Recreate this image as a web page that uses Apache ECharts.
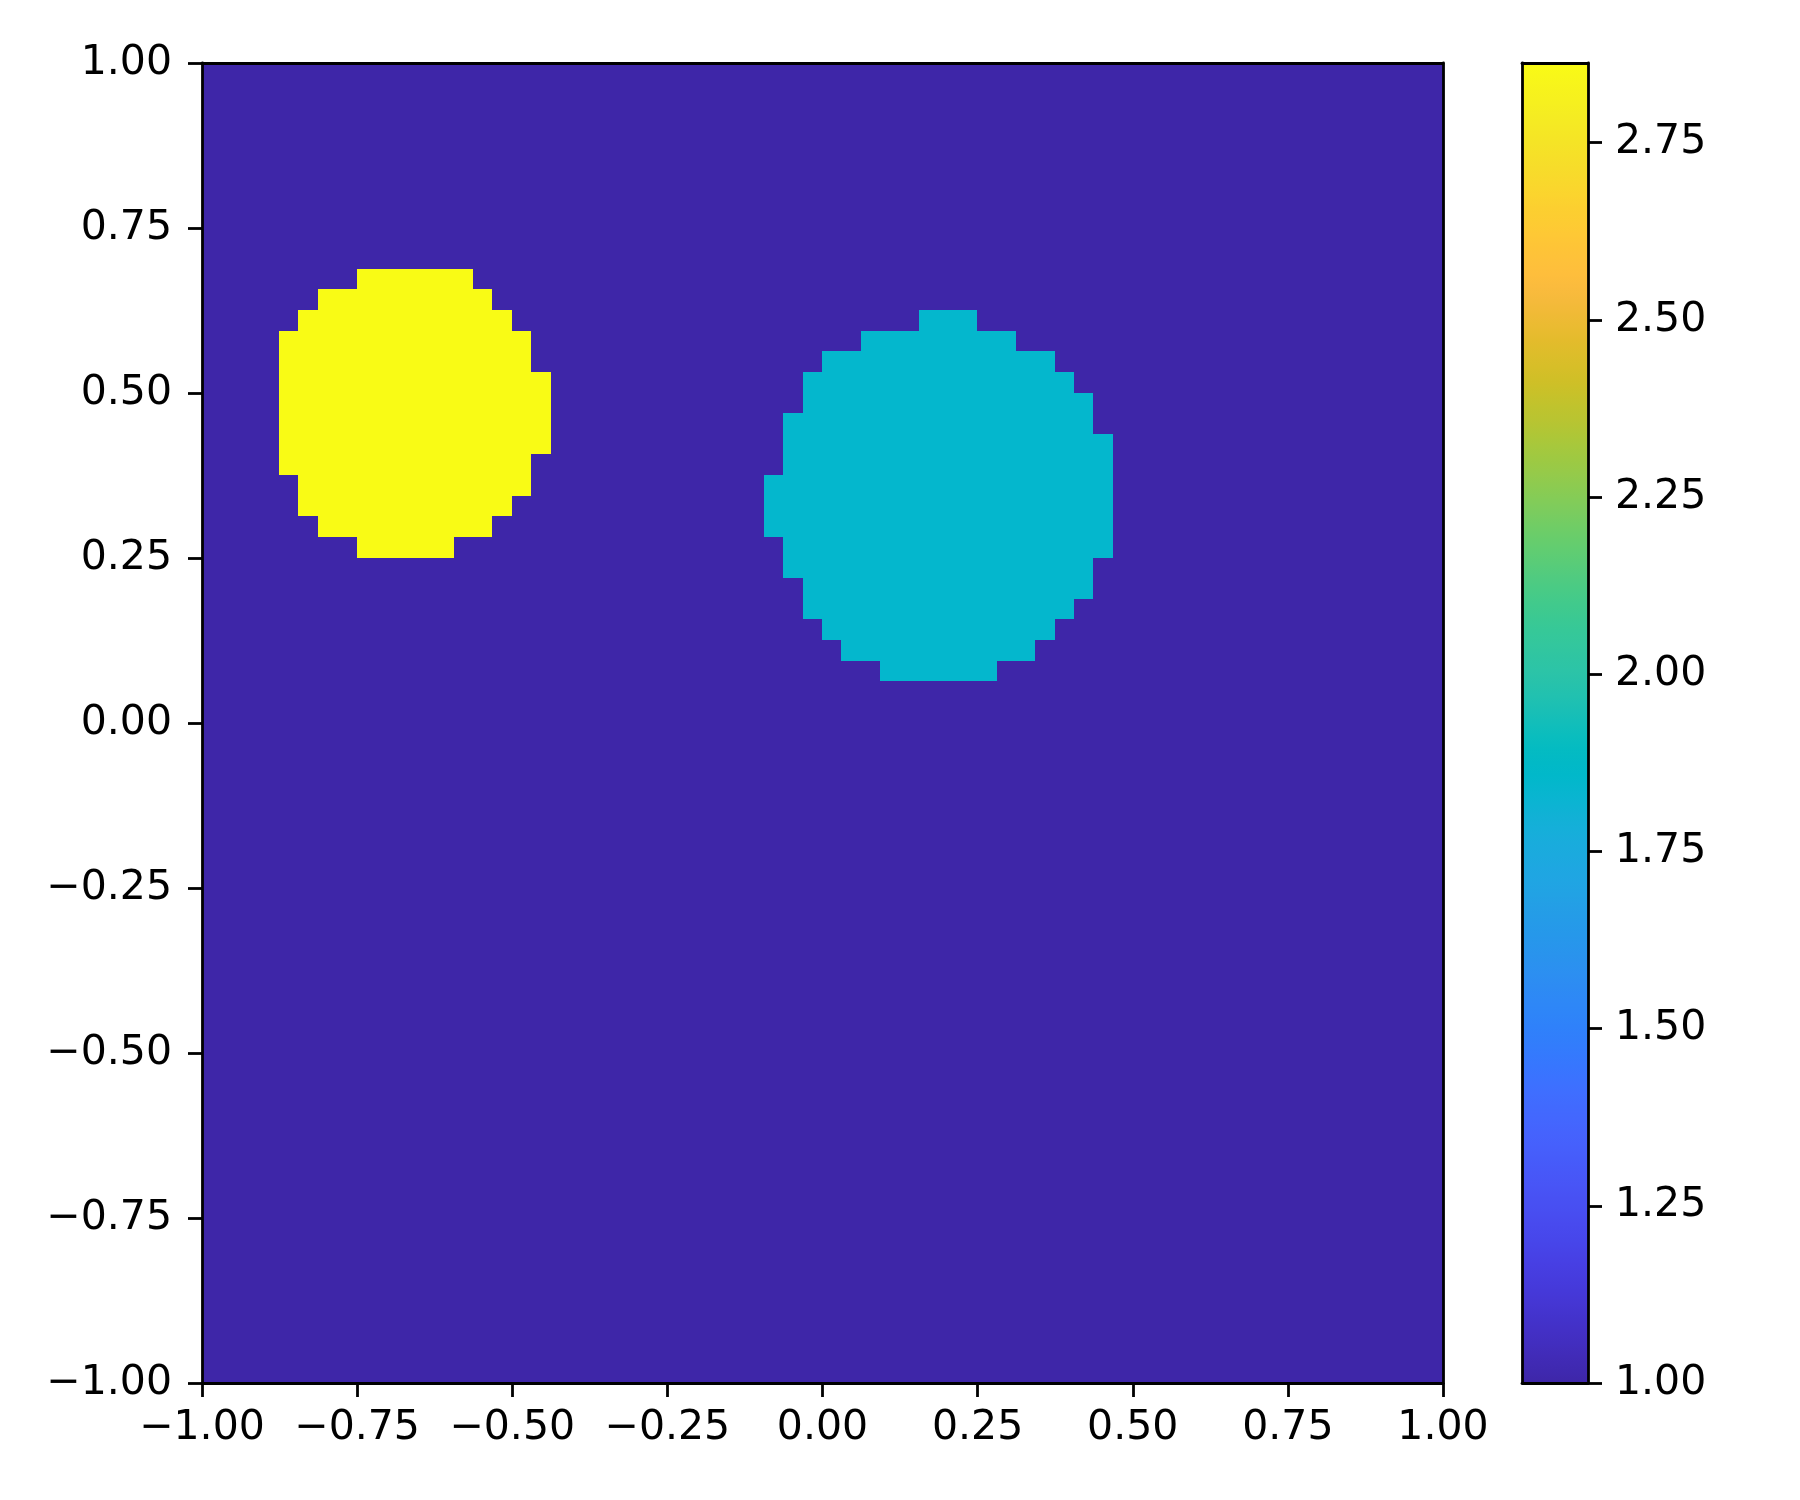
<!DOCTYPE html>
<html>
<head>
<meta charset="utf-8">
<script src="https://cdn.jsdelivr.net/npm/echarts@6/dist/echarts.min.js"></script>
<style>
  html, body { margin: 0; padding: 0; background: #fff; }
  #main { width: 1800px; height: 1500px; }
</style>
</head>
<body>
<div id="main"></div>
<script>
// grid of 64 x 64 cells over [-1, 1] x [-1, 1]
const nCells = 64;
const backgroundValue = 1.0;
const yellowValue = 2.8625;
const cyanValue = 1.845;
const colorMin = 1.0;
const colorMax = 2.8625;

// rows counted from the top: [row, first column, last column]
const yellowRows = [
  [10, 8, 13], [11, 6, 14], [12, 5, 15], [13, 4, 16], [14, 4, 16],
  [15, 4, 17], [16, 4, 17], [17, 4, 17], [18, 4, 17], [19, 4, 16],
  [20, 5, 16], [21, 5, 15], [22, 6, 14], [23, 8, 12]
];
const cyanRows = [
  [12, 37, 39], [13, 34, 41], [14, 32, 43], [15, 31, 44], [16, 31, 45],
  [17, 30, 45], [18, 30, 46], [19, 30, 46], [20, 29, 46], [21, 29, 46],
  [22, 29, 46], [23, 30, 46], [24, 30, 45], [25, 31, 45], [26, 31, 44],
  [27, 32, 43], [28, 33, 42], [29, 35, 40]
];

const axisTicks = [-1, -0.75, -0.5, -0.25, 0, 0.25, 0.5, 0.75, 1];
const colorbarTicks = [1, 1.25, 1.5, 1.75, 2, 2.25, 2.5, 2.75];

// parula, 64 steps
const parula = [
  '#3e26a8', '#402ab4', '#422ec0', '#4332cb', '#4537d5', '#463cde', '#4741e5', '#4747eb',
  '#484df0', '#4852f4', '#4758f8', '#465efb', '#4563fd', '#4269fe', '#3e6fff', '#3875fe',
  '#327cfc', '#2f81fa', '#2e87f7', '#2d8cf3', '#2b91ef', '#2796eb', '#259be8', '#23a0e5',
  '#20a5e3', '#1ca9df', '#18addb', '#12b1d6', '#08b5d0', '#01b8ca', '#02bac3', '#0bbdbd',
  '#19bfb6', '#24c1ae', '#2cc4a7', '#31c69f', '#37c897', '#3fca8e', '#4acb84', '#57cc7a',
  '#64cd6f', '#72cd64', '#81cc59', '#8fcb4e', '#9dc943', '#abc739', '#b9c431', '#c5c22a',
  '#d1bf27', '#dcbd29', '#e6bb2d', '#f0ba36', '#f8ba3d', '#febe3c', '#fec338', '#fec934',
  '#fccf30', '#fad62d', '#f7dc2a', '#f5e327', '#f5e924', '#f6ef20', '#f7f51b', '#f9fb15'
];

// build the cell table
let field = [];
for (let r = 0; r < nCells; r++) {
  field.push(new Array(nCells).fill(backgroundValue));
}
function paint(rows, value) {
  rows.forEach(function (d) {
    for (let c = d[1]; c <= d[2]; c++) field[d[0]][c] = value;
  });
}
paint(yellowRows, yellowValue);
paint(cyanRows, cyanValue);

let cells = [];
for (let r = 0; r < nCells; r++) {
  for (let c = 0; c < nCells; c++) {
    cells.push([c, nCells - 1 - r, field[r][c]]);
  }
}
let cats = [];
for (let i = 0; i < nCells; i++) cats.push(i);

const fontSize = 41;
const lineW = 2.8;
const tickLen = 14;
const fmt = function (v) {
  return (v < 0 ? '\u2212' : '') + Math.abs(v).toFixed(2);
};

const plot = { left: 202, top: 63, width: 1241, height: 1320 };
const bar = { left: 1522, top: 63, width: 66, height: 1320 };

function lineAxis(pos, gridIndex, min, max) {
  return {
    type: 'value', gridIndex: gridIndex, position: pos, min: min, max: max, z: 10,
    axisLine: { show: true, onZero: false, lineStyle: { color: '#000', width: lineW } },
    axisTick: { show: false }, axisLabel: { show: false }, splitLine: { show: false }
  };
}
function tickAxis(pos, gridIndex, min, max, ticks, margin) {
  return {
    type: 'value', gridIndex: gridIndex, position: pos, min: min, max: max, z: 10,
    axisLine: { show: true, onZero: false, lineStyle: { color: '#000', width: lineW } },
    axisTick: { show: true, length: tickLen, customValues: ticks, lineStyle: { color: '#000', width: lineW } },
    axisLabel: {
      show: true, customValues: ticks, formatter: fmt, margin: margin,
      color: '#000', fontSize: fontSize, fontFamily: 'DejaVu Sans'
    },
    splitLine: { show: false }
  };
}

// one rect per cell, snapped to whole pixels so no seams show
function renderCell(params, api) {
  const p = api.coord([api.value(0), api.value(1)]);
  const s = api.size([1, 1]);
  const x0 = Math.floor(p[0] - s[0] / 2), x1 = Math.ceil(p[0] + s[0] / 2);
  const y0 = Math.floor(p[1] - s[1] / 2), y1 = Math.ceil(p[1] + s[1] / 2);
  return {
    type: 'rect',
    shape: { x: x0, y: y0, width: x1 - x0, height: y1 - y0 },
    style: { fill: api.visual('color') }
  };
}

let chart = echarts.init(document.getElementById('main'));
chart.setOption({
  backgroundColor: '#fff',
  animation: false,
  grid: [
    Object.assign({ containLabel: false }, plot),
    Object.assign({ containLabel: false }, bar)
  ],
  xAxis: [
    { type: 'category', gridIndex: 0, position: 'bottom', data: cats, show: false },
    tickAxis('bottom', 0, -1, 1, axisTicks, 25),
    lineAxis('top', 0, -1, 1),
    lineAxis('bottom', 1, 0, 1),
    lineAxis('top', 1, 0, 1)
  ],
  yAxis: [
    { type: 'category', gridIndex: 0, position: 'left', data: cats, show: false },
    tickAxis('left', 0, -1, 1, axisTicks, 30),
    lineAxis('right', 0, -1, 1),
    lineAxis('left', 1, colorMin, colorMax),
    tickAxis('right', 1, colorMin, colorMax, colorbarTicks, 27)
  ],
  visualMap: {
    type: 'continuous',
    seriesIndex: 0,
    dimension: 2,
    min: colorMin,
    max: colorMax,
    calculable: false,
    hoverLink: false,
    orient: 'vertical',
    left: bar.left,
    top: bar.top,
    itemWidth: bar.width,
    itemHeight: bar.height,
    padding: 0,
    text: null,
    inRange: { color: parula }
  },
  series: [{
    type: 'custom',
    xAxisIndex: 0,
    yAxisIndex: 0,
    encode: { x: 0, y: 1 },
    data: cells,
    clip: true,
    progressive: 0,
    renderItem: renderCell
  }]
});
</script>
</body>
</html>
